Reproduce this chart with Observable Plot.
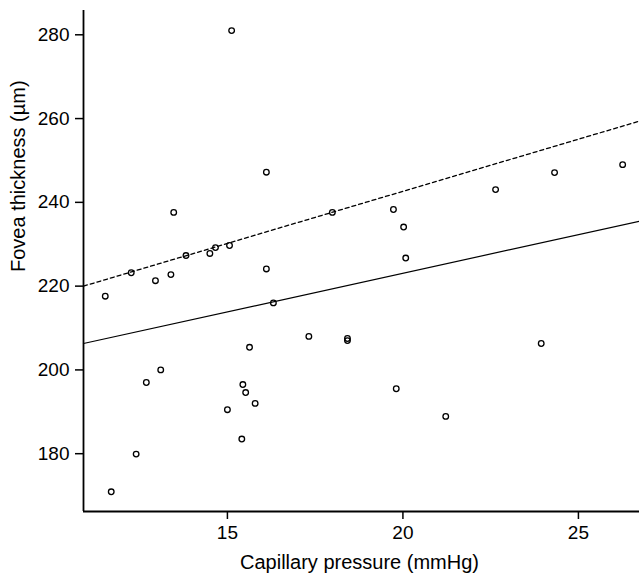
<!DOCTYPE html>
<html>
<head>
<meta charset="utf-8">
<script src="https://cdn.jsdelivr.net/npm/d3@7"></script>
<script src="https://cdn.jsdelivr.net/npm/@observablehq/plot@0.6"></script>
<style>
  html, body { margin: 0; padding: 0; background: #fff; }
  #chart svg { display: block; }
</style>
</head>
<body>
<div id="chart"></div>
<script>
// Capillary pressure (mmHg) vs fovea thickness (µm)
const pressure = [15.12, 16.11, 13.47, 12.26, 12.95, 13.39, 13.82, 14.50, 14.66, 15.06, 16.11, 11.52,
  16.31, 15.63, 17.32, 12.69, 13.10, 15.44, 15.52, 15.79, 15.00, 15.41, 12.40, 11.69,
  17.99, 19.73, 20.02, 20.08, 22.64, 24.32, 26.26, 18.42, 18.42, 19.81, 21.22, 23.94];
const thickness = [281.0, 247.2, 237.6, 223.2, 221.3, 222.75, 227.3, 227.8, 229.2, 229.7, 224.1, 217.6,
  216.0, 205.4, 208.0, 197.0, 200.0, 196.5, 194.6, 192.0, 190.5, 183.5, 179.9, 170.9,
  237.6, 238.3, 234.1, 226.7, 243.05, 247.1, 249.0, 207.5, 207.0, 195.5, 188.9, 206.3];

// Regression lines, endpoints at the plot's x extent
const lineX = [10.9, 26.74];
const solidY = [206.3, 235.5];
const dashedY = [220.0, 259.4];

const xTicks = [15, 20, 25];
const yTicks = [180, 200, 220, 240, 260, 280];
const xDomain = [10.9, 26.74];
const yDomain = [166.2, 285.8];

const points = pressure.map((p, i) => ({x: p, y: thickness[i]}));
const solid = lineX.map((x, i) => ({x, y: solidY[i]}));
const dashed = lineX.map((x, i) => ({x, y: dashedY[i]}));

const font = "'Liberation Sans', Arial, Helvetica, sans-serif";

const chart = Plot.plot({
  width: 639,
  height: 577,
  marginLeft: 83,
  marginRight: 0,
  marginTop: 10,
  marginBottom: 66,
  style: {fontFamily: font, fontSize: "19px", color: "#000", background: "#fff"},
  x: {domain: xDomain},
  y: {domain: yDomain},
  marks: [
    Plot.axisX({ticks: xTicks, tickSize: 8, tickPadding: 6, label: null, fontSize: 19, strokeWidth: 1.5}),
    Plot.axisY({ticks: yTicks, tickSize: 8, tickPadding: 6, label: null, fontSize: 19, strokeWidth: 1.5}),
    Plot.ruleX([xDomain[0]], {stroke: "#000", strokeWidth: 1.8}),
    Plot.ruleY([yDomain[0]], {stroke: "#000", strokeWidth: 1.8}),
    Plot.line(solid, {x: "x", y: "y", stroke: "#000", strokeWidth: 1.2}),
    Plot.line(dashed, {x: "x", y: "y", stroke: "#000", strokeWidth: 1.3, strokeDasharray: "4,3"}),
    Plot.dot(points, {x: "x", y: "y", r: 2.8, stroke: "#000", strokeWidth: 1.3, fill: "none"}),
    Plot.text(["Capillary pressure (mmHg)"], {frameAnchor: "bottom", dx: -2, dy: 51, fontSize: 20, lineAnchor: "middle", fill: "#000"}),
    Plot.text(["Fovea thickness (µm)"], {frameAnchor: "left", dx: -65, dy: 11, rotate: -90, fontSize: 20, lineAnchor: "middle", fill: "#000"})
  ]
});
document.getElementById("chart").appendChild(chart);
</script>
</body>
</html>
